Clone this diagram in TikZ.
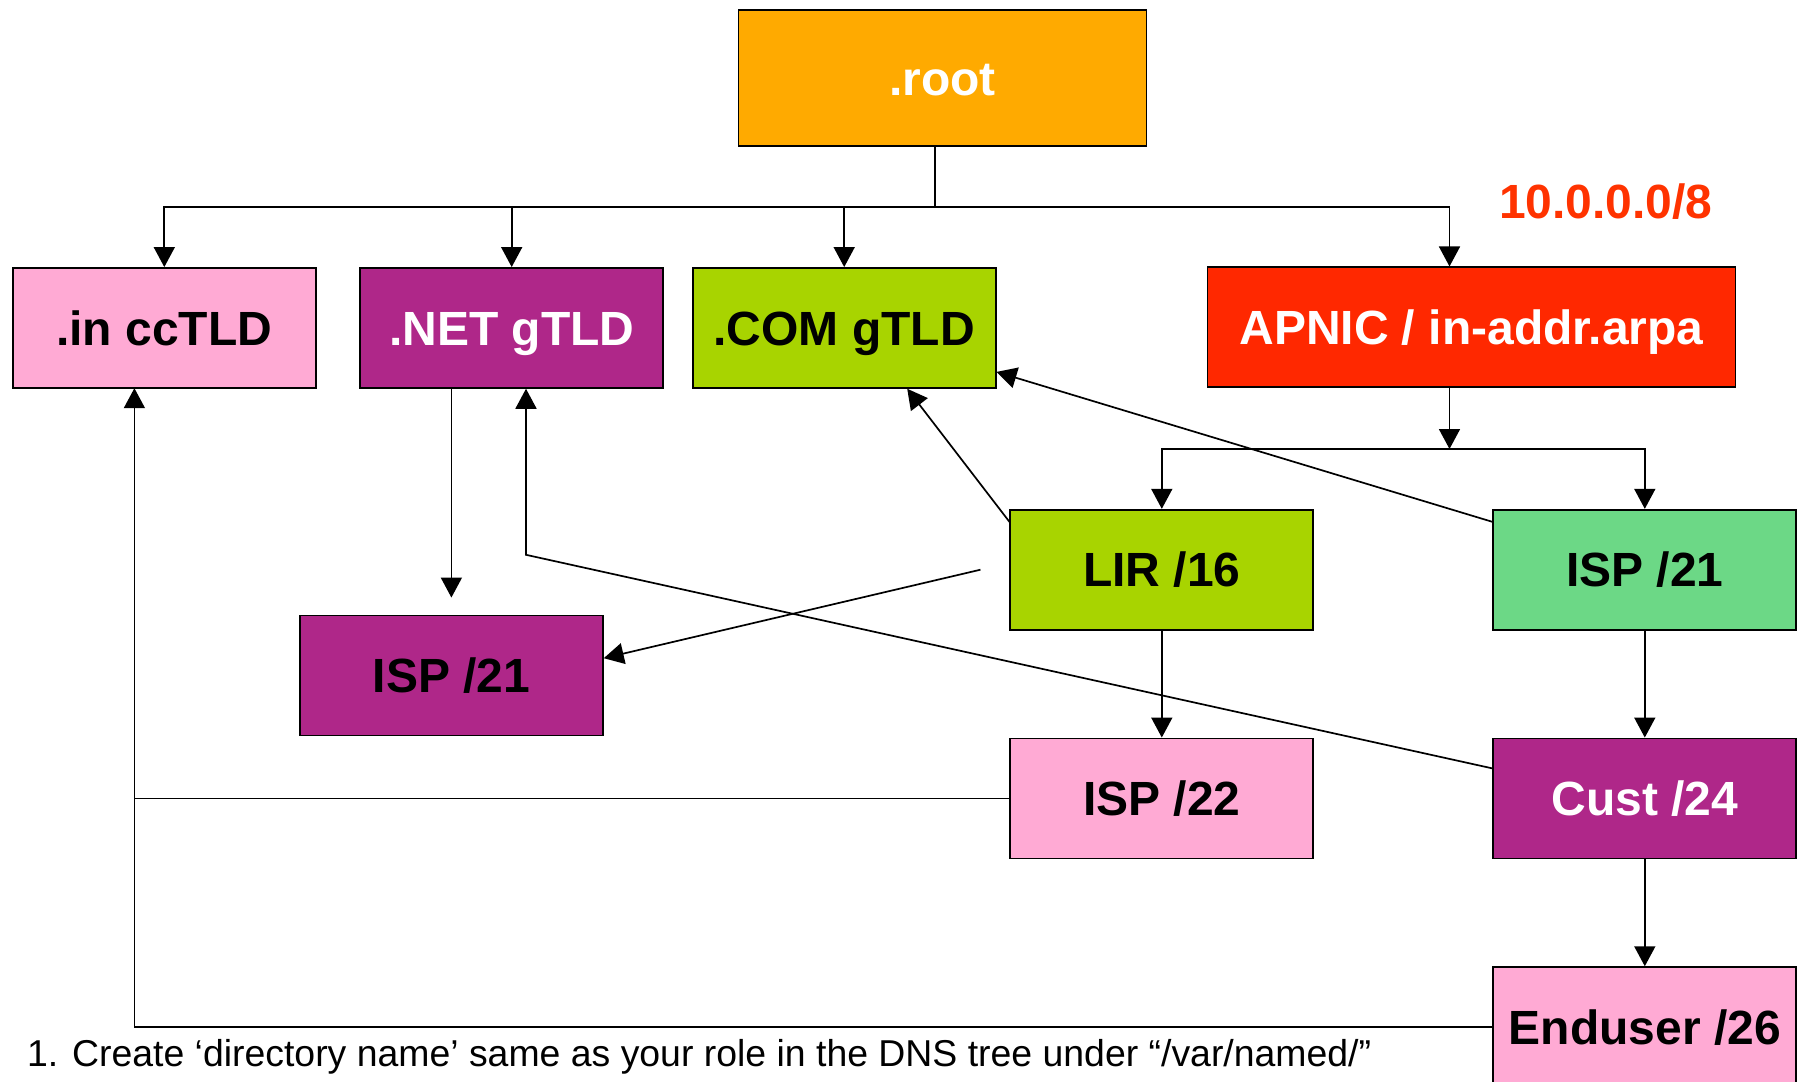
\documentclass[tikz,border=0pt]{standalone}
\usepackage{fontspec}
\setmainfont{Liberation Sans}
\usepackage{xcolor}
\usepackage{tikz}
\usetikzlibrary{arrows.meta, positioning, calc}
\definecolor{rootorange}{HTML}{FFAA00}
\definecolor{pinkbox}{HTML}{FFAAD4}
\definecolor{purplebox}{HTML}{AF2789}
\definecolor{limebox}{HTML}{A8D400}
\definecolor{redbox}{HTML}{FF2800}
\definecolor{greenbox}{HTML}{6CD886}
\definecolor{netred}{HTML}{FF3300}

\begin{document}
\begin{tikzpicture}[x=0.5pt, y=-0.5pt, >={Triangle[length=10pt, width=10.5pt]}]
    \tikzset{box/.style = {rectangle, draw, line width=0.85pt, minimum width=151.5pt, minimum height=60pt, inner sep=0pt, text height=17.2pt, text depth=0pt, font=\bfseries\fontsize{24}{28}\selectfont}}
    \tikzset{arrow/.style = {draw, ->, line width=0.85pt}}
    \tikzset{link/.style = {draw, line width=0.85pt}}

    \useasboundingbox (0,0) rectangle (1801,1082);

    % Tree nodes
    \node [box, fill=rootorange, text=white, minimum width=204pt, minimum height=68pt] (root) at (942.4,78.1) {.root};
    \node [box, fill=pinkbox] (intld) at (164.3,327.9) {.in ccTLD};
    \node [box, fill=purplebox, text=white] (net) at (511.7,327.9) {.NET gTLD};
    \node [box, fill=limebox] (com) at (844.2,327.9) {.COM gTLD};
    \node [box, fill=redbox, text=white, minimum width=264pt] (apnic) at (1471.4,327.3) {APNIC / in-addr.arpa};
    \node [font=\bfseries\fontsize{24}{28}\selectfont, text=netred, text height=17.2pt, text depth=0pt, inner sep=0pt] (block) at (1605.8,201) {10.0.0.0/8};
    \node [box, fill=limebox] (lir) at (1161.8,569.7) {LIR /16};
    \node [box, fill=greenbox] (ispg) at (1644.8,569.7) {ISP /21};
    \node [box, fill=purplebox] (ispp) at (451.4,675.4) {ISP /21};
    \node [box, fill=pinkbox, below=53.5pt of lir] (isp22) {ISP /22};
    \node [box, fill=purplebox, text=white, below=53.5pt of ispg] (cust) {Cust /24};
    \node [box, fill=pinkbox, below=53.5pt of cust] (enduser) {Enduser /26};
    \node [anchor=west, font=\fontsize{18.7}{22}\selectfont] (note) at (20,1057) {1. Create ‘directory name’ same as your role in the DNS tree under “/var/named/”};

    % Bus points
    \coordinate (rootbus) at (935,206.7);
    \coordinate (apnicbus) at (1449.5,449);
    \coordinate (netbend) at (526,554.8);
    \coordinate (inup) at (134.4,388.2);

    % Delegations
    \draw [link] (root.south -| rootbus) -- (rootbus);
    \draw [arrow] (rootbus) -| (intld);
    \draw [arrow] (rootbus) -| (net);
    \draw [arrow] (rootbus) -| (com);
    \draw [arrow] (rootbus) -| (apnic.north -| apnicbus);
    \draw [arrow] (apnic.south -| apnicbus) -- (apnicbus);
    \draw [arrow] (apnicbus) -| (lir);
    \draw [arrow] (apnicbus) -| (ispg);
    \draw [arrow] (lir) -- (isp22);
    \draw [arrow] (ispg) -- (cust);
    \draw [arrow] (cust) -- (enduser);
    \draw [arrow] (net.south -| ispp) -- ([yshift=8.5pt]ispp.north);

    % Name server links
    \draw [arrow] ([yshift=-6.5pt]lir.north west) -- ([xshift=31.5pt]com.south);
    \draw [arrow] ([yshift=-6.5pt]ispg.north west) -- ([yshift=-22pt]com.east);
    \draw [arrow] ([xshift=-14.5pt]lir.west) -- ([yshift=8.6pt]ispp.east);
    \draw [arrow] ([yshift=15pt]cust.west) -- (netbend) -- (netbend |- net.south);
    \draw [link] (isp22.west) -- (isp22.west -| inup);
    \draw [arrow] (enduser.west) -| (inup);
\end{tikzpicture}
\end{document}
